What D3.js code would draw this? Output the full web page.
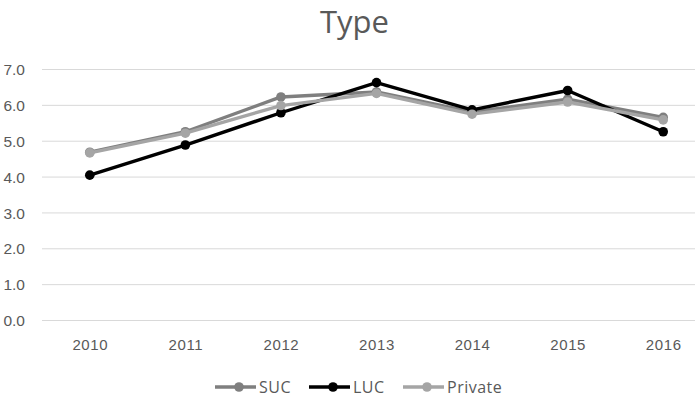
<!DOCTYPE html>
<html>
<head>
<meta charset="utf-8">
<script src="https://cdn.jsdelivr.net/npm/d3@7"></script>
<style>
  html, body { margin: 0; padding: 0; background: #fff; overflow: hidden; }
  svg { display: block; font-family: "Open Sans", "Liberation Sans", sans-serif; }
</style>
</head>
<body>
<svg id="chart" width="695" height="400"></svg>
<script>
// Category axis
const years = ["2010", "2011", "2012", "2013", "2014", "2015", "2016"];

// Series values by year
const sucValues     = [4.68, 5.25, 6.22, 6.36, 5.80, 6.16, 5.65];
const lucValues     = [4.04, 4.88, 5.78, 6.62, 5.86, 6.40, 5.25];
const privateValues = [4.66, 5.21, 5.98, 6.32, 5.74, 6.08, 5.58];

// Value axis ticks
const yTicks = [0, 1, 2, 3, 4, 5, 6, 7];

const series = [
  { name: "SUC",     values: sucValues,     color: "#7f7f7f" },
  { name: "LUC",     values: lucValues,     color: "#000000" },
  { name: "Private", values: privateValues, color: "#a5a5a5" }
];

const svg = d3.select("#chart");
const plot = { left: 42, right: 711, top: 69, bottom: 320 };

const x = d3.scalePoint()
  .domain(years)
  .range([plot.left, plot.right])
  .padding(0.5);

const y = d3.scaleLinear()
  .domain([0, 7])
  .range([plot.bottom, plot.top]);

// Title
svg.append("text")
  .attr("x", 354.5)
  .attr("y", 33)
  .attr("text-anchor", "middle")
  .attr("font-size", 31)
  .attr("fill", "#595959")
  .text("Type");

// Horizontal gridlines with value labels
const yAxis = d3.axisLeft(y)
  .tickValues(yTicks)
  .tickSize(-(plot.right - plot.left))
  .tickPadding(17)
  .tickFormat(d3.format(".1f"));

const gy = svg.append("g")
  .attr("transform", `translate(${plot.left},0)`)
  .call(yAxis);
gy.select(".domain").remove();
gy.selectAll(".tick line").attr("stroke", "#d9d9d9").attr("stroke-width", 1);
gy.selectAll(".tick text")
  .attr("fill", "#595959")
  .attr("font-size", 15.5)
  .attr("dy", "0.36em");

// Category axis
const xAxis = d3.axisBottom(x).tickSize(0).tickPadding(19);
const gx = svg.append("g")
  .attr("transform", `translate(0,${plot.bottom})`)
  .call(xAxis);
gx.select(".domain").attr("stroke", "#d9d9d9");
gx.selectAll(".tick text")
  .attr("fill", "#595959")
  .attr("font-size", 15)
  .attr("letter-spacing", 0.6);

// Lines and markers
const line = d3.line()
  .x((d, i) => x(years[i]))
  .y(d => y(d));

series.forEach(s => {
  const g = svg.append("g");
  g.append("path")
    .datum(s.values)
    .attr("fill", "none")
    .attr("stroke", s.color)
    .attr("stroke-width", 3.4)
    .attr("stroke-linejoin", "round")
    .attr("d", line);
  g.selectAll("circle")
    .data(s.values)
    .join("circle")
    .attr("cx", (d, i) => x(years[i]))
    .attr("cy", d => y(d))
    .attr("r", 4.8)
    .attr("fill", s.color);
});

// Legend
const legendItems = [
  { s: series[0], x: 215 },
  { s: series[1], x: 309 },
  { s: series[2], x: 403 }
];
const ly = 387;
legendItems.forEach(item => {
  const g = svg.append("g").attr("transform", `translate(${item.x},${ly})`);
  g.append("line")
    .attr("x1", 0).attr("x2", 41)
    .attr("y1", 0).attr("y2", 0)
    .attr("stroke", item.s.color)
    .attr("stroke-width", 3.4);
  g.append("circle")
    .attr("cx", 24).attr("cy", 0).attr("r", 4.8)
    .attr("fill", item.s.color);
  g.append("text")
    .attr("x", 44)
    .attr("y", 6)
    .attr("font-size", 16)
    .attr("letter-spacing", 0.5)
    .attr("fill", "#595959")
    .text(item.s.name);
});
</script>
</body>
</html>
